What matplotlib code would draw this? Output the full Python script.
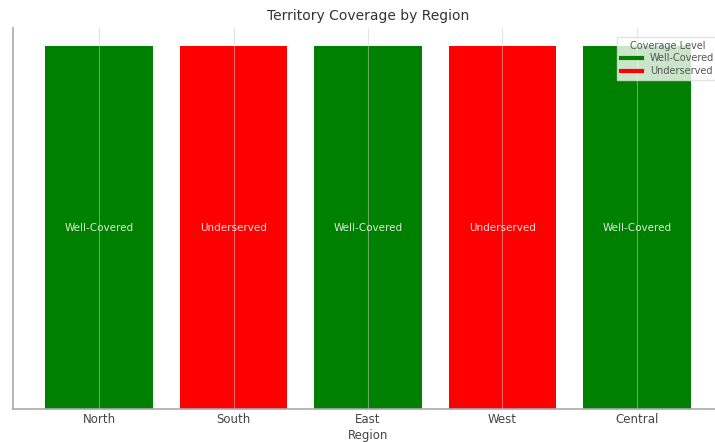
import matplotlib
matplotlib.use("Agg")
import matplotlib.pyplot as plt
from matplotlib.lines import Line2D

# data
regions = ["North", "South", "East", "West", "Central"]
coverage = ["Well-Covered", "Underserved", "Well-Covered", "Underserved", "Well-Covered"]
values = [1, 1, 1, 1, 1]
level_colors = {"Well-Covered": "green", "Underserved": "red"}

fig = plt.figure(figsize=(7.15, 4.42), dpi=100)
ax = fig.add_axes([13 / 715, 1 - 409 / 442, 710 / 715, 381 / 442])

bars = ax.bar(regions, values, width=0.8,
              color=[level_colors[c] for c in coverage])

for bar, label in zip(bars, coverage):
    ax.text(bar.get_x() + bar.get_width() / 2, bar.get_height() / 2, label,
            ha="center", va="center", color="white", alpha=0.85, fontsize=7.5)

ax.set_title("Territory Coverage by Region", fontsize=10, color="#333333")
ax.set_xlabel("Region", fontsize=8.5, color="#444444", labelpad=2)
ax.set_yticks([])
ax.tick_params(axis="x", length=0, labelsize=8.5, labelcolor="#444444", pad=3)

ax.set_axisbelow(False)
ax.grid(axis="x", color="#cccccc", linewidth=0.8, alpha=0.5)

for side in ["top", "right"]:
    ax.spines[side].set_visible(False)
for side in ["left", "bottom"]:
    ax.spines[side].set_color("#aaaaaa")
    ax.spines[side].set_linewidth(1.2)

handles = [Line2D([0], [0], color=level_colors[k], lw=3) for k in ["Well-Covered", "Underserved"]]
leg = ax.legend(handles, ["Well-Covered", "Underserved"], title="Coverage Level",
                loc="upper right", bbox_to_anchor=(1.0, 0.99), fontsize=7,
                title_fontsize=7, handlelength=2.2, framealpha=0.8,
                borderpad=0.4, labelspacing=0.3, fancybox=False)
leg.get_frame().set_edgecolor("#dddddd")
for t in leg.get_texts():
    t.set_color("#555555")
leg.get_title().set_color("#555555")

fig.savefig("out.png", dpi=100)
